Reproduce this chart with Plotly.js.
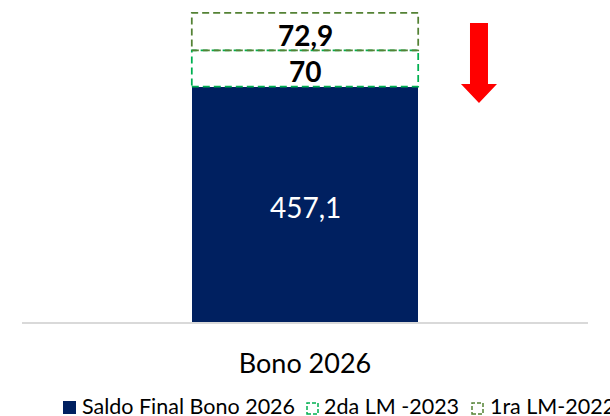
<!DOCTYPE html>
<html>
<head>
<meta charset="utf-8">
<script src="https://cdn.plot.ly/plotly-3.0.1.min.js"></script>
<style>html,body{margin:0;padding:0;background:#fff;}#chart{width:610px;height:416px;}</style>
</head>
<body>
<div id="chart"></div>
<script>
// ---- data ----
const categories = ["Bono 2026"];
const seriesNames = ["Saldo Final Bono 2026", "2da LM -2023", "1ra LM-2022"];
const saldoFinal = [457.1];
const lm2023 = [70];
const lm2022 = [72.9];

// ---- styles ----
const FONT = "Lato, 'Noto Sans', sans-serif";
const navy = "#002060";
const green = "#00B050";
const olive = "#548235";
const barWidth = 0.4;

const fmt = v => String(v).replace(".", ",");

const stack = [saldoFinal, lm2023, lm2022];
const fills = [navy, "#ffffff", "#ffffff"];
const borders = [null, green, olive];
const labelColors = ["#ffffff", "#000000", "#000000"];
const labelWeights = [400, 700, 700];

const traces = [];
const shapes = [];
const annotations = [];
const bases = categories.map(() => 0);

stack.forEach((vals, si) => {
  traces.push({
    type: "bar",
    name: seriesNames[si],
    x: categories,
    y: vals,
    width: barWidth,
    marker: { color: fills[si], line: { width: 0 } },
    hoverinfo: "skip"
  });
  vals.forEach((v, ci) => {
    const b = bases[ci];
    if (borders[si]) {
      shapes.push({
        type: "rect", xref: "x", yref: "y", layer: "above",
        x0: ci - barWidth / 2, x1: ci + barWidth / 2, y0: b, y1: b + v,
        line: { color: borders[si], width: 1.75, dash: "7px,4px" },
        fillcolor: "rgba(0,0,0,0)"
      });
    }
    annotations.push({
      xref: "x", yref: "y", x: ci, y: b + v / 2,
      xanchor: "center", yanchor: "middle", yshift: -3, showarrow: false,
      text: fmt(v),
      font: { family: FONT, size: 28, color: labelColors[si], weight: labelWeights[si] }
    });
    bases[ci] = b + v;
  });
});

// ---- red down arrow (paper coords) ----
shapes.push({
  type: "path", xref: "paper", yref: "paper",
  path: "M 0.7915 0.9286 L 0.8233 0.9286 L 0.8233 0.7391 L 0.8392 0.7391 L 0.8074 0.6801 L 0.7756 0.7391 L 0.7915 0.7391 Z",
  fillcolor: "#FF0000", line: { width: 0 }, layer: "above"
});

// ---- manual legend (the original legend is cut off at the right edge) ----
const W = 566, L = 22, H = 322;
const px = p => (p - L) / W;
const py = p => (H - p) / H;
const legendItems = [
  { name: seriesNames[0], mx: 63, tx: 80, fill: navy, line: null },
  { name: seriesNames[1], mx: 307, tx: 322, fill: "rgba(0,0,0,0)", line: green },
  { name: seriesNames[2], mx: 472, tx: 488, fill: "rgba(0,0,0,0)", line: olive }
];
legendItems.forEach(it => {
  const size = it.line ? 11 : 13;
  shapes.push({
    type: "rect", xref: "paper", yref: "paper",
    x0: px(it.mx), x1: px(it.mx + size), y0: py(414), y1: py(414 - size),
    fillcolor: it.fill,
    line: it.line ? { color: it.line, width: 1.5, dash: "4px,2px" } : { width: 0 }
  });
  annotations.push({
    xref: "paper", yref: "paper", x: px(it.tx), y: py(406),
    xanchor: "left", yanchor: "middle", showarrow: false,
    text: it.name, font: { family: FONT, size: 21.5, color: "#000000" }
  });
});

const layout = {
  width: 610, height: 416,
  margin: { l: 22, r: 22, t: 0, b: 94 },
  barmode: "stack",
  showlegend: false,
  paper_bgcolor: "#ffffff", plot_bgcolor: "#ffffff",
  xaxis: {
    type: "category", range: [-0.5, 0.5],
    showline: true, linecolor: "#D9D9D9", linewidth: 1.5,
    showgrid: false, zeroline: false,
    ticks: "outside", ticklen: 17, tickcolor: "rgba(0,0,0,0)",
    tickfont: { family: FONT, size: 27, color: "#000000" },
    fixedrange: true
  },
  yaxis: { visible: false, range: [0, 625], showgrid: false, zeroline: false, fixedrange: true },
  shapes: shapes,
  annotations: annotations,
  separators: ",."
};

Plotly.newPlot("chart", traces, layout, { displayModeBar: false, staticPlot: true });
</script>
</body>
</html>
